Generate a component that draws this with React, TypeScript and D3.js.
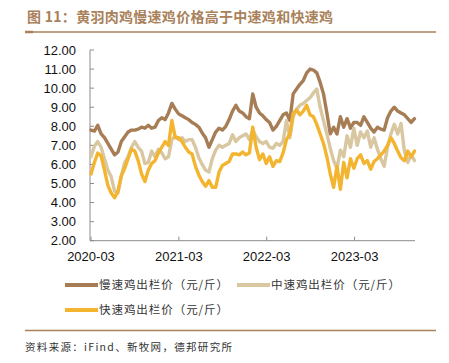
import React from 'react'
import * as d3 from 'd3'

// readings every two weeks from 2020-03-01
const startDate = new Date(2020, 2, 1)

const slowPrice = [
  7.8, 7.75, 8.05, 7.6, 7.4, 7.1, 6.8, 6.5, 6.65, 7.2,
  7.45, 7.7, 7.8, 7.8, 7.85, 7.95, 7.9, 8.05, 7.9, 7.95,
  8.3, 8.45, 8.35, 8.7, 9.2, 8.9, 8.65, 8.55, 8.45, 8.35,
  8.2, 8.1, 7.95, 7.65, 7.4, 6.9, 7.3, 7.7, 7.9, 7.8,
  8.0, 8.35, 8.8, 9.1, 8.8, 8.7, 8.5, 8.4, 9.7, 9.0,
  8.7, 8.55, 8.35, 8.2, 7.8, 8.0, 8.3, 8.6, 8.7, 8.3,
  9.7, 9.95, 10.2, 10.4, 10.8, 11.0, 10.95, 10.8, 10.3, 9.7,
  8.7, 7.6, 7.95, 7.6, 8.5, 7.95, 8.4, 7.9, 8.2, 8.2,
  8.05, 8.5, 8.2, 7.9, 7.7, 7.95, 7.85, 7.8, 8.45, 8.8,
  9.0, 8.8, 8.7, 8.6, 8.4, 8.2, 8.4
]

const mediumPrice = [
  6.4, 6.95, 7.2, 6.9, 6.3, 5.7, 5.35, 4.6, 4.5, 5.4,
  6.1, 6.4, 6.9, 7.2, 6.9, 6.7, 6.05, 6.1, 6.7, 6.4,
  6.8, 6.6, 6.3, 6.4, 7.3, 7.5, 7.3, 7.4, 7.2, 7.3,
  7.3, 6.9, 6.35, 6.0, 5.7, 5.6, 6.3, 6.75, 7.0, 6.9,
  7.0, 7.1, 7.55, 7.2, 7.4, 7.5, 7.6, 7.3, 7.8, 7.45,
  7.2, 7.1, 7.2, 6.9, 6.85, 7.1, 7.0, 7.2, 8.3, 7.4,
  8.5, 8.9, 9.1, 9.2, 9.35, 9.5, 9.75, 9.95, 9.0, 8.3,
  7.6, 6.85, 6.2, 5.8, 6.75, 6.4, 7.5, 6.9, 7.9, 7.0,
  7.7, 7.4, 7.75, 6.9, 7.4, 6.8, 6.3, 5.9, 6.9, 7.6,
  8.1, 7.6, 8.15, 6.7, 6.1, 6.5, 6.2
]

const fastPrice = [
  5.5, 6.1, 6.6, 6.45, 5.7, 4.9, 4.5, 4.25, 4.6, 5.4,
  5.8, 6.3, 6.8, 6.7, 6.2, 5.5, 5.1, 5.7, 6.05, 6.2,
  6.6, 6.9, 7.2, 7.0, 8.3, 7.4, 7.4, 7.2, 6.9, 6.65,
  6.55, 5.9, 5.45, 5.1, 4.85, 5.15, 4.8, 4.8, 5.6, 5.95,
  6.05, 6.15, 6.55, 6.55, 6.5, 6.65, 6.5, 6.6, 7.95, 6.9,
  6.25, 6.55, 6.05, 6.4, 5.9, 6.2, 6.15, 6.6, 7.3, 7.6,
  8.7, 8.85, 8.6, 8.8, 9.1, 8.6, 8.5, 8.1, 7.6, 7.1,
  6.4, 5.5, 4.8, 5.9, 4.7, 6.1, 5.3, 6.3, 5.8, 6.3,
  6.5, 6.05, 6.2, 5.75, 6.15, 6.3, 6.5, 6.7, 7.0, 7.4,
  7.1, 6.7, 6.35, 6.2, 6.7, 6.4, 6.7
]

const dates = slowPrice.map((_, i) => d3.timeDay.offset(startDate, i * 14))

const yTicks = [2, 3, 4, 5, 6, 7, 8, 9, 10, 11, 12]
const xTickLabels = ['2020-03', '2021-03', '2022-03', '2023-03']

const seriesNames = ['慢速鸡出栏价（元/斤）', '中速鸡出栏价（元/斤）', '快速鸡出栏价（元/斤）']
const seriesColors = ['#a67d55', '#d8c7a0', '#f3b52f']

const cjk = '"Noto Sans CJK SC", "Noto Sans", sans-serif'
const latin = '"Liberation Sans", Arial, sans-serif'

const xScale = d3.scaleTime()
  .domain([dates[0], dates[dates.length - 1]])
  .range([91, 414.5])

const yScale = d3.scaleLinear()
  .domain([2, 12])
  .range([240.7, 50])

const line = d3.line<number>()
  .x((_, i) => xScale(dates[i]))
  .y(d => yScale(d))

export default function App() {
  const series = [slowPrice, mediumPrice, fastPrice]
  const axisColor = '#8c8c8c'
  const brown = '#a9815a'

  return (
    <svg width={449} height={363} style={{ position: 'absolute', left: 0, top: 0, background: '#fff' }}>
      <text x={27} y={22} fontFamily={cjk} fontSize={14} fontWeight='bold' fill={brown}
        textLength={306} lengthAdjust='spacing'>
        图 11：黄羽肉鸡慢速鸡价格高于中速鸡和快速鸡
      </text>
      <line x1={25} x2={436} y1={32} y2={32} stroke={brown} strokeWidth={1.5} />
      <line x1={25} x2={33} y1={32} y2={32} stroke={brown} strokeWidth={2.5} />

      {/* y axis */}
      <line x1={90} x2={90} y1={yScale(12)} y2={yScale(2)} stroke={axisColor} strokeWidth={1} />
      {yTicks.map(t => (
        <g key={t}>
          <line x1={90} x2={94} y1={yScale(t)} y2={yScale(t)} stroke={axisColor} />
          <text x={76} y={yScale(t)} dy='0.35em' textAnchor='end' fontFamily={latin} fontSize={13} fill='#111'>
            {t.toFixed(2)}
          </text>
        </g>
      ))}

      {/* x axis */}
      <line x1={90} x2={415} y1={yScale(2)} y2={yScale(2)} stroke={axisColor} strokeWidth={1} />
      {xTickLabels.map(lbl => {
        const [yr, mo] = lbl.split('-').map(Number)
        const x = xScale(new Date(yr, mo - 1, 1))
        return (
          <g key={lbl}>
            <line x1={x} x2={x} y1={yScale(2)} y2={yScale(2) - 4} stroke={axisColor} />
            <text x={x} y={261} textAnchor='middle' fontFamily={latin} fontSize={13} fill='#111'>{lbl}</text>
          </g>
        )
      })}

      {series.map((s, i) => (
        <path key={i} d={line(s) ?? ''} fill='none' stroke={seriesColors[i]} strokeWidth={3.4}
          strokeLinejoin='round' strokeLinecap='round' />
      ))}

      {/* legend */}
      {seriesNames.map((name, i) => {
        const lx = i === 1 ? 237 : 65
        const ly = i === 2 ? 310 : 285
        return (
          <g key={name}>
            <line x1={lx} x2={lx + 33} y1={ly} y2={ly} stroke={seriesColors[i]} strokeWidth={4} />
            <text x={lx + 34} y={ly} dy='0.35em' fontFamily={cjk} fontSize={11.5} fill='#333'
              textLength={129} lengthAdjust='spacing'>{name}</text>
          </g>
        )
      })}

      <line x1={25} x2={436} y1={330.5} y2={330.5} stroke={brown} strokeWidth={1.5} />
      <text x={25} y={347} dy='0.35em' fontFamily={cjk} fontSize={10.5} fill='#333'
        textLength={207} lengthAdjust='spacing'>
        资料来源：iFind、新牧网，德邦研究所
      </text>
    </svg>
  )
}
